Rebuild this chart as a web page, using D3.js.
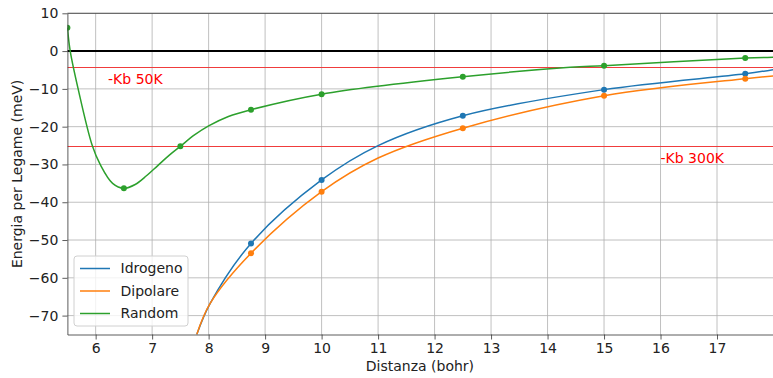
<!DOCTYPE html>
<html>
<head>
<meta charset="utf-8">
<script src="https://cdn.jsdelivr.net/npm/d3@7"></script>
<style>
  body { margin: 0; background: white; }
  text { font-family: "DejaVu Sans", sans-serif; }
</style>
</head>
<body>
<div id="viz"></div>
<script>
// measured points
const distanze = [8.75, 10, 12.5, 15, 17.5];
const idrogeno = [-50.9, -34.1, -17.1, -10.2, -6.0];
const dipolare = [-53.5, -37.2, -20.4, -11.8, -7.3];
const distanzeRandom = [5.5, 6.5, 7.5, 8.75, 10, 12.5, 15, 17.5];
const random = [6.2, -36.3, -25.2, -15.5, -11.4, -6.8, -3.85, -1.85];

// fitted curves
const fitX = [7.79, 8.03, 8.75, 10, 11, 12.5, 15, 17.5, 18];
const fitIdrogeno = [-75, -66.7, -50.9, -34.1, -25, -17.1, -10.2, -6.0, -4.9];
const fitDipolare = [-75, -66.7, -53.5, -37.2, -28.3, -20.4, -11.8, -7.3, -6.6];
const fitRandomX = [5.5, 5.55, 5.69, 5.94, 6.08, 6.3, 6.5, 6.7, 6.9, 7.1, 7.3, 7.5, 7.75, 8.0, 8.35, 8.75, 10, 12.5, 14.4, 15, 17.5, 18];
const fitRandom = [6.2, 0, -10, -25, -30, -35, -36.3, -35.3, -33, -30.3, -27.6, -25.2, -22.2, -19.8, -17.3, -15.5, -11.4, -6.8, -4.3, -3.85, -1.85, -1.6];

const xTicks = [6, 7, 8, 9, 10, 11, 12, 13, 14, 15, 16, 17];
const yTicks = [10, 0, -10, -20, -30, -40, -50, -60, -70];
const soglie = [-4.3, -25];
const soglieLabel = ["-Kb 50K", "-Kb 300K"];

const series = [
    { name: "Idrogeno", color: "#1f77b4", x: distanze, y: idrogeno, fx: fitX, fy: fitIdrogeno },
    { name: "Dipolare", color: "#ff7f0e", x: distanze, y: dipolare, fx: fitX, fy: fitDipolare },
    { name: "Random", color: "#2ca02c", x: distanzeRandom, y: random, fx: fitRandomX, fy: fitRandom }
];

const width = 773, height = 378;
const margin = { top: 13.3, right: -0.5, bottom: 43.5, left: 67.4 };

const svg = d3.select("#viz").append("svg")
    .attr("width", width)
    .attr("height", height);

const x = d3.scaleLinear().domain([5.5, 18]).range([margin.left, width - margin.right]);
const y = d3.scaleLinear().domain([-75, 10]).range([height - margin.bottom, margin.top]);

svg.append("clipPath").attr("id", "clip")
    .append("rect")
    .attr("x", margin.left).attr("y", margin.top)
    .attr("width", x(18) - margin.left).attr("height", y(-75) - margin.top);

// grid
const grid = svg.append("g");
grid.selectAll(".gx").data(xTicks).enter().append("line")
    .attr("x1", d => x(d)).attr("x2", d => x(d))
    .attr("y1", y(10)).attr("y2", y(-75))
    .attr("stroke", "#b0b0b0").attr("stroke-width", 0.8);
grid.selectAll(".gy").data(yTicks).enter().append("line")
    .attr("x1", x(5.5)).attr("x2", x(18))
    .attr("y1", d => y(d)).attr("y2", d => y(d))
    .attr("stroke", "#b0b0b0").attr("stroke-width", 0.8);

const plot = svg.append("g").attr("clip-path", "url(#clip)");

// zero line
plot.append("line")
    .attr("x1", x(5.5)).attr("x2", x(18))
    .attr("y1", y(0)).attr("y2", y(0))
    .attr("stroke", "black").attr("stroke-width", 2);

// thermal energy lines (snapped to pixel centres so they stay crisp)
plot.selectAll(".soglia").data(soglie).enter().append("line")
    .attr("x1", x(5.5)).attr("x2", x(18))
    .attr("y1", d => Math.round(y(d)) + 0.5).attr("y2", d => Math.round(y(d)) + 0.5)
    .attr("stroke", "#f03c3c").attr("stroke-width", 1);

svg.append("text").attr("x", x(6.22)).attr("y", y(-8.6))
    .attr("fill", "red").attr("font-size", 14).text(soglieLabel[0]);
svg.append("text").attr("x", x(16.0)).attr("y", y(-29.6))
    .attr("fill", "red").attr("font-size", 14).text(soglieLabel[1]);

// curves + markers
const line = d3.line().curve(d3.curveCatmullRom.alpha(0.5));
series.forEach(s => {
    plot.append("path")
        .attr("d", line(s.fx.map((v, i) => [x(v), y(s.fy[i])])))
        .attr("fill", "none")
        .attr("stroke", s.color)
        .attr("stroke-width", 1.5);
    plot.selectAll(null).data(s.x).enter().append("circle")
        .attr("cx", d => x(d))
        .attr("cy", (d, i) => y(s.y[i]))
        .attr("r", 3)
        .attr("fill", s.color);
});

// axes
const xAxis = svg.append("g")
    .attr("transform", `translate(0,${y(-75)})`)
    .call(d3.axisBottom(x).tickValues(xTicks).tickSize(5).tickPadding(4).tickSizeOuter(0));
const yAxis = svg.append("g")
    .attr("transform", `translate(${x(5.5)},0)`)
    .call(d3.axisLeft(y).tickValues(yTicks).tickSize(5).tickPadding(4).tickSizeOuter(0));
[xAxis, yAxis].forEach(a => {
    a.selectAll("text").attr("font-size", 14).attr("font-family", "DejaVu Sans").attr("fill", "#222");
    a.selectAll("line").attr("stroke", "#333").attr("stroke-width", 0.8);
    a.select(".domain").attr("stroke", "#333").attr("stroke-width", 0.8);
});

// top spine
svg.append("line")
    .attr("x1", x(5.5)).attr("x2", x(18))
    .attr("y1", y(10)).attr("y2", y(10))
    .attr("stroke", "#333").attr("stroke-width", 0.8);

// labels
svg.append("text")
    .attr("x", (x(5.5) + x(18)) / 2 - 0.5)
    .attr("y", 371)
    .attr("text-anchor", "middle")
    .attr("font-size", 14)
    .attr("fill", "#222")
    .text("Distanza (bohr)");
svg.append("text")
    .attr("transform", `translate(22,${(y(10) + y(-75)) / 2}) rotate(-90)`)
    .attr("text-anchor", "middle")
    .attr("font-size", 14)
    .attr("fill", "#222")
    .text("Energia per Legame (meV)");

// legend
const legend = svg.append("g").attr("transform", "translate(74,256)");
legend.append("rect")
    .attr("width", 114).attr("height", 70)
    .attr("rx", 3)
    .attr("fill", "white").attr("fill-opacity", 0.8)
    .attr("stroke", "#d0d0d0").attr("stroke-width", 1);
series.forEach((s, i) => {
    const g = legend.append("g").attr("transform", `translate(0,${12.5 + i * 22.5})`);
    g.append("line").attr("x1", 6).attr("x2", 36).attr("y1", 0).attr("y2", 0)
        .attr("stroke", s.color).attr("stroke-width", 1.5);
    g.append("text").attr("x", 46.5).attr("y", 0).attr("dy", "0.35em")
        .attr("font-size", 14).attr("fill", "#222").text(s.name);
});
</script>
</body>
</html>
